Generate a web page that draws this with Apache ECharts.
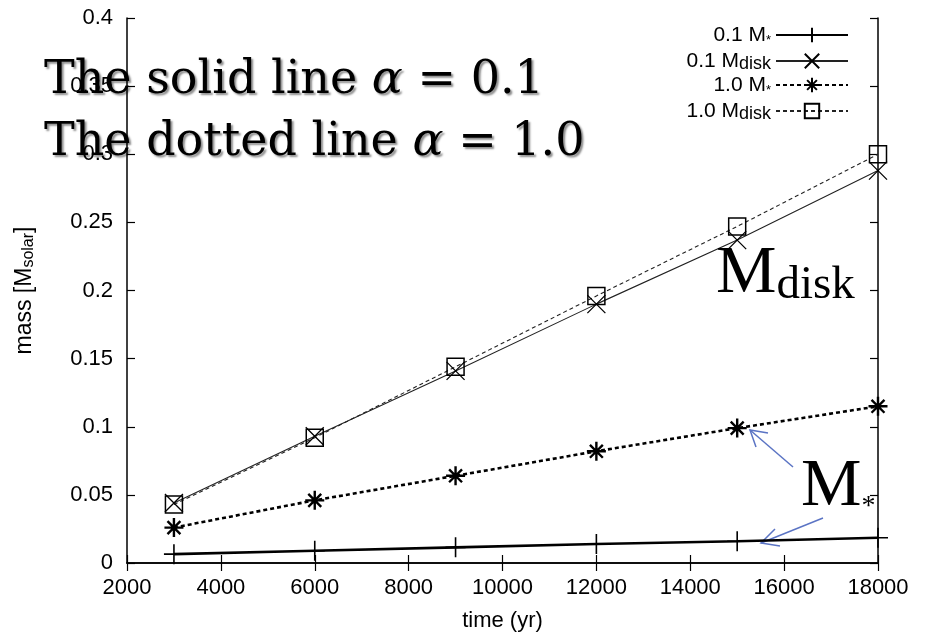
<!DOCTYPE html>
<html lang="en">
<head>
  <meta charset="UTF-8">
  <title>mass vs time</title>
  <script src="https://cdn.jsdelivr.net/npm/echarts@6.0.0/dist/echarts.min.js"></script>
  <style>
    html, body { margin: 0; padding: 0; background: #fff; }
    #container { width: 932px; height: 637px; }
  </style>
</head>
<body>
  <div id="container"></div>
  <script>
    // data
    const times = [3000, 6000, 9000, 12000, 15000, 18000];
    const starLow = [0.0065, 0.009, 0.0115, 0.014, 0.016, 0.0185];   // 0.1 M*
    const diskLow = [0.044, 0.093, 0.141, 0.190, 0.237, 0.288];      // 0.1 Mdisk
    const starHigh = [0.026, 0.046, 0.064, 0.082, 0.099, 0.115];     // 1.0 M*
    const diskHigh = [0.043, 0.092, 0.144, 0.196, 0.247, 0.300];     // 1.0 Mdisk
    const xTicks = [2000, 18000, 2000];   // min, max, step
    const yTicks = [0, 0.4, 0.05];

    const pts = ys => times.map((t, i) => [t, ys[i]]);

    const PLUS = 'path://M5,0L5,10M0,5L10,5';
    const CROSS = 'path://M0,0L10,10M10,0L0,10';
    const STAR = 'path://M5,0L5,10M0,5L10,5M1.6,1.6L8.4,8.4M8.4,1.6L1.6,8.4';
    const SQUARE = 'path://M0,0L10,0L10,10L0,10Z';

    const sans = 'Liberation Sans, Arial, sans-serif';
    const serif = 'Liberation Serif, Times New Roman, serif';

    const chart = echarts.init(document.getElementById('container'));

    const mkSeries = (name, data, symbol, size, width, type, lineColor, bw) => ({
      name: name,
      type: 'line',
      data: pts(data),
      symbol: symbol,
      symbolSize: size,
      showAllSymbol: true,
      lineStyle: { color: lineColor, width: width, type: type },
      itemStyle: { color: 'transparent', borderColor: '#000', borderWidth: bw },
      emphasis: { disabled: true },
      z: 3
    });

    const tickCommon = {
      axisTick: { show: true, inside: true, length: 8, lineStyle: { color: '#000', width: 1.2 } },
      axisLine: { show: true, lineStyle: { color: '#000', width: 1.5 } },
      splitLine: { show: false }
    };

    const option = {
      animation: false,
      backgroundColor: '#fff',
      grid: { left: 127, right: 54, top: 18, bottom: 72, containLabel: false },
      xAxis: [
        Object.assign({
          type: 'value', min: xTicks[0], max: xTicks[1], interval: xTicks[2],
          name: 'time (yr)', nameLocation: 'middle', nameGap: 47,
          nameTextStyle: { fontFamily: sans, fontSize: 22, color: '#000' },
          axisLabel: { fontFamily: sans, fontSize: 22, color: '#000', margin: 14, formatter: v => String(v) }
        }, tickCommon),
        Object.assign({
          type: 'value', position: 'top', min: xTicks[0], max: xTicks[1], interval: xTicks[2],
          axisLabel: { show: false }
        }, tickCommon)
      ],
      yAxis: [
        Object.assign({
          type: 'value', min: yTicks[0], max: yTicks[1], interval: yTicks[2],
          name: 'mass [M{sub|solar}]', nameLocation: 'middle', nameGap: 90,
          nameTextStyle: {
            fontFamily: sans, fontSize: 23, color: '#000',
            rich: { sub: { fontFamily: sans, fontSize: 16, color: '#000', verticalAlign: 'bottom', padding: [8, 0, 0, 0] } }
          },
          axisLabel: { fontFamily: sans, fontSize: 22, color: '#000', margin: 14 }
        }, tickCommon),
        Object.assign({
          type: 'value', position: 'right', min: yTicks[0], max: yTicks[1], interval: yTicks[2],
          axisLabel: { show: false }
        }, tickCommon)
      ],
      legend: {
        orient: 'vertical',
        right: 78,
        top: 18,
        align: 'right',
        itemWidth: 72,
        itemHeight: 18,
        itemGap: 0,
        selectedMode: false,
        data: ['0.1 M*', '0.1 Mdisk', '1.0 M*', '1.0 Mdisk'],
        formatter: n => n.replace('M*', 'M{st|*}').replace('Mdisk', 'M{sub|disk}'),
        textStyle: {
          fontFamily: sans, fontSize: 21, color: '#000', lineHeight: 24,
          rich: {
            sub: { fontFamily: sans, fontSize: 18, color: '#000', lineHeight: 6, padding: [8, 0, 0, 0], verticalAlign: 'bottom' },
            st: { fontFamily: sans, fontSize: 13, color: '#000', lineHeight: 12, verticalAlign: 'bottom' }
          }
        }
      },
      series: [
        mkSeries('0.1 M*', starLow, PLUS, 20, 2.6, 'solid', '#000', 1.6),
        mkSeries('0.1 Mdisk', diskLow, CROSS, 18, 1.1, 'solid', '#222', 1.3),
        mkSeries('1.0 M*', starHigh, STAR, 19, 2.6, [4, 3], '#000', 2.4),
        mkSeries('1.0 Mdisk', diskHigh, SQUARE, 17, 1.1, [4, 3], '#222', 1.5)
      ],
      graphic: [
        {
          type: 'text', left: 44, top: 50, z: 100,
          style: {
            text: 'The solid line {a|α} = 0.1\nThe dotted line {a|α} = 1.0',
            font: '46px "DejaVu Serif", serif',
            fill: '#000',
            lineHeight: 62,
            textShadowColor: 'rgba(0,0,0,0.45)',
            textShadowBlur: 2,
            textShadowOffsetX: 2,
            textShadowOffsetY: 2,
            rich: { a: { fontStyle: 'italic', fontFamily: 'DejaVu Serif', fontSize: 46, fill: '#000' } }
          }
        },
        {
          type: 'text', left: 716, top: 240, z: 100,
          style: {
            text: 'M{s|disk}',
            font: '68px ' + serif,
            fill: '#000',
            rich: { s: { fontFamily: serif, fontSize: 47, padding: [24, 0, 0, 0] } }
          }
        },
        {
          type: 'text', left: 801, top: 453, z: 100,
          style: {
            text: 'M{s|*}',
            font: '68px ' + serif,
            fill: '#000',
            rich: { s: { fontFamily: serif, fontSize: 28, padding: [40, 0, 0, 0] } }
          }
        },
        {
          type: 'group', z: 100,
          children: [
            { type: 'polyline', shape: { points: [[793, 467], [750, 430]] }, style: { stroke: '#5b74c4', lineWidth: 1.5, fill: null } },
            { type: 'polyline', shape: { points: [[768, 433], [750, 430], [756, 447]] }, style: { stroke: '#5b74c4', lineWidth: 1.5, fill: null } },
            { type: 'polyline', shape: { points: [[823, 518], [761, 543]] }, style: { stroke: '#5b74c4', lineWidth: 1.5, fill: null } },
            { type: 'polyline', shape: { points: [[775, 529], [761, 543], [780, 546]] }, style: { stroke: '#5b74c4', lineWidth: 1.5, fill: null } }
          ]
        }
      ]
    };

    chart.setOption(option);
  </script>
</body>
</html>
